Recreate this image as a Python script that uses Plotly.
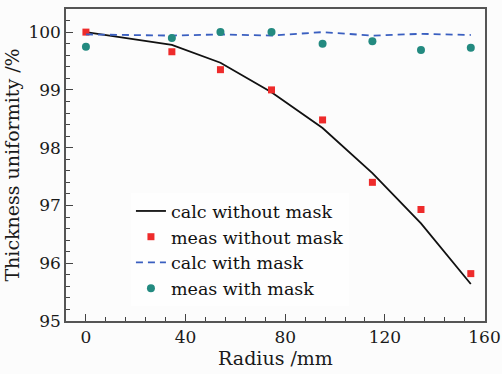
import plotly.graph_objects as go

radius = [0, 34.5, 54, 74.5, 95, 115, 134.5, 154.5]
calc_without = [100.0, 99.78, 99.47, 98.96, 98.34, 97.56, 96.69, 95.64]
meas_without = [100.0, 99.66, 99.35, 99.0, 98.48, 97.40, 96.93, 95.82]
calc_with = [99.96, 99.94, 99.96, 99.94, 100.0, 99.94, 99.97, 99.95]
meas_with = [99.745, 99.90, 100.0, 100.0, 99.80, 99.84, 99.69, 99.73]

FONT = "DejaVu Serif"

fig = go.Figure()
fig.add_trace(go.Scatter(x=radius, y=calc_without, mode="lines", name="calc without mask",
                         line=dict(color="#111111", width=1.8)))
fig.add_trace(go.Scatter(x=radius, y=meas_without, mode="markers", name="meas without mask",
                         marker=dict(symbol="square", color="#ee2b2b", size=7)))
fig.add_trace(go.Scatter(x=radius, y=calc_with, mode="lines", name="calc with mask",
                         line=dict(color="#3a5fc0", width=1.8, dash="7px,5px")))
fig.add_trace(go.Scatter(x=radius, y=meas_with, mode="markers", name="meas with mask",
                         marker=dict(symbol="circle", color="#238a80", size=8)))

axis_common = dict(showgrid=False, zeroline=False, showline=True, mirror=True,
                   linecolor="#555555", linewidth=1.5, ticks="inside", ticklen=7,
                   tickwidth=1.2, tickcolor="#444444", ticklabeloverflow="allow",
                   automargin=False,
                   tickfont=dict(family=FONT, size=17, color="#1a1a1a"))

fig.update_layout(
    width=502, height=374,
    margin=dict(l=66, r=17, t=9, b=53),
    paper_bgcolor="#fcfcfc", plot_bgcolor="#fcfcfc",
    font=dict(family=FONT, color="#1a1a1a"),
    showlegend=True,
    legend=dict(x=0.155, y=0.41, xanchor="left", yanchor="top",
                bgcolor="rgba(255,255,255,0.6)", borderwidth=0,
                font=dict(family=FONT, size=17.5, color="#111111"),
                tracegroupgap=0, itemwidth=30),
    xaxis=dict(range=[-8, 160.2], tickvals=[0, 40, 80, 120, 160],
               minor=dict(dtick=8, tick0=0, ticks="inside", ticklen=4, tickcolor="#444444"),
               title=dict(text="Radius /mm", font=dict(family=FONT, size=19), standoff=5),
               **axis_common),
    yaxis=dict(range=[95, 100.4], tickvals=[95, 96, 97, 98, 99, 100],
               minor=dict(dtick=0.2, tick0=95, ticks="inside", ticklen=4, tickcolor="#444444"),
               title=dict(text="Thickness uniformity /%", font=dict(family=FONT, size=19), standoff=4),
               **axis_common),
)

fig.write_html("out.html")
